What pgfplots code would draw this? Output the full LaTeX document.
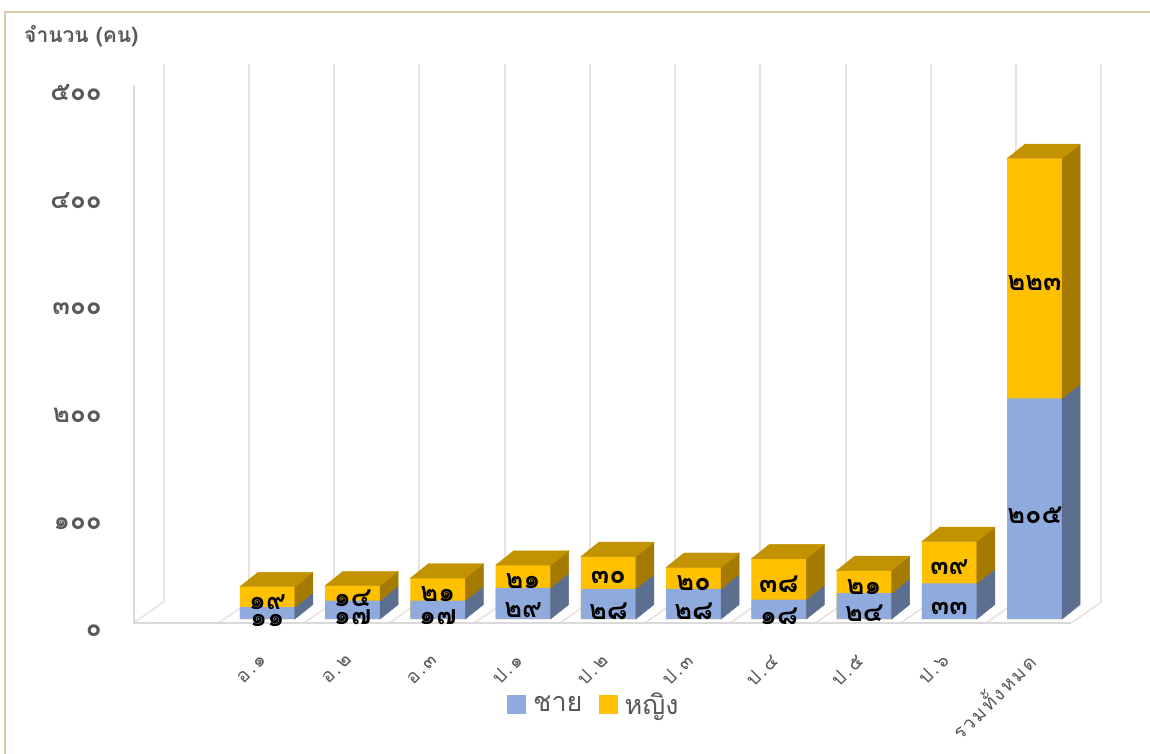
\documentclass[border=0pt]{standalone}
\usepackage{pgfplots}
\pgfplotsset{compat=1.18}
\usepackage{pgfplotstable}
\usepackage{fontspec}
\newfontfamily\thai[Script=Thai]{Loma}
\newfontfamily\thaisp[Script=Thai, LetterSpace=12]{Loma}
\definecolor{bluefront}{HTML}{8FAADC}
\definecolor{blueside}{HTML}{5D6F91}
\definecolor{yellowfront}{HTML}{FFC000}
\definecolor{yellowside}{HTML}{A47A00}
\definecolor{yellowtop}{HTML}{C29200}
\definecolor{gridc}{HTML}{E8E2D8}
\definecolor{floorc}{HTML}{D9D9D9}
\definecolor{tickgray}{HTML}{595959}
\definecolor{framec}{HTML}{D8CBA6}
\pgfplotstableread{
x m f ml fl
1 11 19 ๑๑ ๑๙
2 17 14 ๑๗ ๑๔
3 17 21 ๑๗ ๒๑
4 29 21 ๒๙ ๒๑
5 28 30 ๒๘ ๓๐
6 28 20 ๒๘ ๒๐
7 18 38 ๑๘ ๓๘
8 24 21 ๒๔ ๒๑
9 33 39 ๓๓ ๓๙
10 205 223 ๒๐๕ ๒๒๓
}\data
\begin{document}
\begin{tikzpicture}
\useasboundingbox (0,0) rectangle (1150pt,-754pt);
\fill[white] (0,0) rectangle (1150pt,-754pt);
\draw[framec, line width=2pt] (5pt,-754pt) -- (5pt,-12pt) -- (1150pt,-12pt);
\node[anchor=west, inner sep=0pt, text=tickgray] at (24pt,-36pt) {\thai\bfseries\fontsize{21pt}{25pt}\selectfont จำนวน (คน)};
% back wall and floor
\foreach \k in {0,...,11} {
  \draw[gridc, line width=2pt] ({163.5pt+85.25pt*\k},-602pt) -- ({163.5pt+85.25pt*\k},-64pt);
  \draw[gridc, line width=1.5pt] ({133.5pt+85.25pt*\k},-623pt) -- ({163.5pt+85.25pt*\k},-602pt);
}
\draw[floorc, line width=2pt] (133.5pt,-85pt) -- (133.5pt,-623pt) -- (1071.25pt,-623pt);
\begin{axis}[
  at={(139.5pt,-619pt)}, anchor=south west,
  x=85.25pt, y=1.076pt,
  xmin=-0.5, xmax=10.5, ymin=0, ymax=500,
  clip=false,
  axis line style={draw=none},
  major tick length=0pt,
  tick style={draw=none},
  ytick={0,100,200,300,400,500},
  yticklabels={๐,๑๐๐,๒๐๐,๓๐๐,๔๐๐,๕๐๐},
  yticklabel style={font=\thai\bfseries\fontsize{26pt}{28pt}\selectfont, text=tickgray, inner sep=0pt, xshift=-37.5pt, yshift=-12pt, anchor=east},
  xtick={1,...,10},
  xticklabels={อ.๑,อ.๒,อ.๓,ป.๑,ป.๒,ป.๓,ป.๔,ป.๕,ป.๖,รวมทั้งหมด},
  xticklabel style={font=\thaisp\fontsize{19pt}{24pt}\selectfont, text=tickgray, inner sep=0pt, xshift=-4pt, yshift=-38pt, rotate=45, anchor=east},
  legend columns=2,
  legend style={draw=none, fill=none, at={(0.4845,-0.158)}, anchor=center,
    font=\thai\fontsize{27pt}{30pt}\selectfont, text=tickgray,
    /tikz/every even column/.append style={column sep=14pt}},
  legend image code/.code={\fill[#1, draw=none] (0pt,-9.5pt) rectangle (19pt,9.5pt);},
]
\addlegendimage{fill=bluefront, draw=none}
\addlegendentry{\hspace{5pt}ชาย}
\addlegendimage{fill=yellowfront, draw=none}
\addlegendentry{\hspace{5pt}หญิง}
% front faces: total (yellow) then male (blue)
\addplot[forget plot, ybar, bar width=55pt, bar shift=0pt, fill=yellowfront, draw=none]
  table[x=x, y expr=\thisrow{m}+\thisrow{f}] {\data};
\addplot[forget plot, ybar, bar width=55pt, bar shift=0pt, fill=bluefront, draw=none]
  table[x=x, y=m] {\data};
% 3D side and top faces
\addplot[forget plot, only marks, mark=*, mark size=0pt, scatter,
  visualization depends on={\thisrow{m} \as \mval},
  visualization depends on={\thisrow{f} \as \fval},
  scatter/@pre marker code/.code={%
    \pgfmathsetlengthmacro{\hm}{\mval*1.076pt}%
    \pgfmathsetlengthmacro{\htot}{(\mval+\fval)*1.076pt}%
    \fill[blueside] (27.5pt,0pt) -- (45.5pt,14.4pt) -- (45.5pt,\hm+14.4pt) -- (27.5pt,\hm) -- cycle;
    \fill[yellowside] (27.5pt,\hm) -- (45.5pt,\hm+14.4pt) -- (45.5pt,\htot+14.4pt) -- (27.5pt,\htot) -- cycle;
    \fill[yellowtop] (-27.5pt,\htot) -- (27.5pt,\htot) -- (45.5pt,\htot+14.4pt) -- (-9.5pt,\htot+14.4pt) -- cycle;
  },
  scatter/@post marker code/.code={},
] table[x=x, y expr=0] {\data};
% data labels
\addplot[forget plot, only marks, mark=none, nodes near coords, point meta=explicit symbolic,
  every node near coord/.append style={anchor=center, yshift=-7pt, text=black, font=\thai\bfseries\fontsize{27pt}{30pt}\selectfont}]
  table[x=x, y expr=\thisrow{m}/2, meta=ml] {\data};
\addplot[forget plot, only marks, mark=none, nodes near coords, point meta=explicit symbolic,
  every node near coord/.append style={anchor=center, yshift=-5pt, text=black, font=\thai\bfseries\fontsize{27pt}{30pt}\selectfont}]
  table[x=x, y expr=\thisrow{m}+\thisrow{f}/2, meta=fl] {\data};
\end{axis}
\end{tikzpicture}
\end{document}
